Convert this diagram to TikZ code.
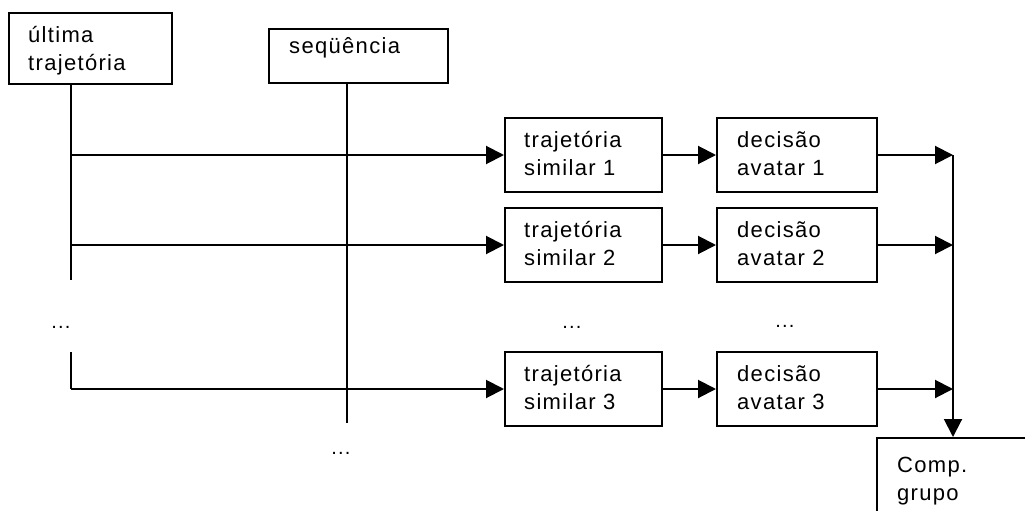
\documentclass[tikz,border=0pt]{standalone}
\usepackage{fontspec}
\setmainfont{Liberation Sans}[LetterSpace=6]
\usetikzlibrary{arrows.meta,calc}
% fixed first-line height so labels can be placed by their first baseline
\newcommand\lblstrut{\rule{0pt}{21pt}}
\begin{document}
\begin{tikzpicture}[x=1pt,y=-1pt,
  box/.style={draw, line width=2pt, anchor=north west, inner sep=0pt},
  lbl/.style={anchor=north west, inner sep=0pt, align=left,
              font=\fontsize{22}{28}\selectfont},
  dots/.style={anchor=base, inner sep=0pt, font=\fontsize{20}{28}\selectfont},
  wire/.style={line width=2pt},
  arr/.style={line width=2pt, -{Triangle[length=18pt,width=18pt]}}]

\useasboundingbox (0,0) rectangle (1025,511);
\clip (0,0) rectangle (1025,511);

% input boxes
\node[box, minimum width=163, minimum height=71] (ult) at (8,12) {};
\node[lbl] (ultT) at ($(ult.north west)+(20,9)$) {\lblstrut última\\trajetória};
\node[box, minimum width=179, minimum height=54] (seq) at (268,28) {};
\node[lbl] (seqT) at ($(seq.north west)+(21,4)$) {\lblstrut seqüência};

% similar trajectories
\node[box, minimum width=157, minimum height=74] (t1) at (504,117) {};
\node[box, minimum width=157, minimum height=74] (t2) at (504,207) {};
\node[box, minimum width=157, minimum height=74] (t3) at (504,351) {};
\foreach \n/\k in {t1/1,t2/2,t3/3}
  \node[lbl] (\n T) at ($(\n.north west)+(20,9)$) {\lblstrut trajetória\\similar \k};

% avatar decisions
\node[box, minimum width=160, minimum height=74] (d1) at (716,117) {};
\node[box, minimum width=160, minimum height=74] (d2) at (716,207) {};
\node[box, minimum width=160, minimum height=74] (d3) at (716,351) {};
\foreach \n/\k in {d1/1,d2/2,d3/3}
  \node[lbl] (\n T) at ($(\n.north west)+(21,9)$) {\lblstrut decisão\\avatar \k};

% group composition
\node[box, minimum width=200, minimum height=104] (comp) at (876,437) {};
\node[lbl] (compT) at ($(comp.north west)+(21,14)$) {\lblstrut Comp.\\grupo};

% ellipses
\node[dots] (e1) at (61,328) {...};
\node[dots] (e2) at (341,454) {...};
\node[dots] (e3) at (572,328) {...};
\node[dots] (e4) at (785,327) {...};

% vertical rails
\coordinate (u0) at (71,280);
\coordinate (u1) at (71,352);
\coordinate (s0) at (347,423);
\coordinate (bus) at (953,0);

\draw[wire] (ult.south -| u0) -- (u0);
\draw[wire] (u1) -- (u1 |- t3.west);
\draw[wire] (seq.south -| s0) -- (s0);

% branches to the similar trajectories
\draw[arr] (u0 |- t1.west) -- (t1.west);
\draw[arr] (u0 |- t2.west) -- (t2.west);
\draw[arr] (u0 |- t3.west) -- (t3.west);

% trajectory -> decision
\draw[arr] (t1.east) -- (d1.west);
\draw[arr] (t2.east) -- (d2.west);
\draw[arr] (t3.east) -- (d3.west);

% decisions -> collecting bus
\draw[arr] (d1.east) -- (d1.east -| bus);
\draw[arr] (d2.east) -- (d2.east -| bus);
\draw[arr] (d3.east) -- (d3.east -| bus);
\draw[arr] (d1.east -| bus) -- (comp.north -| bus);
\end{tikzpicture}
\end{document}
